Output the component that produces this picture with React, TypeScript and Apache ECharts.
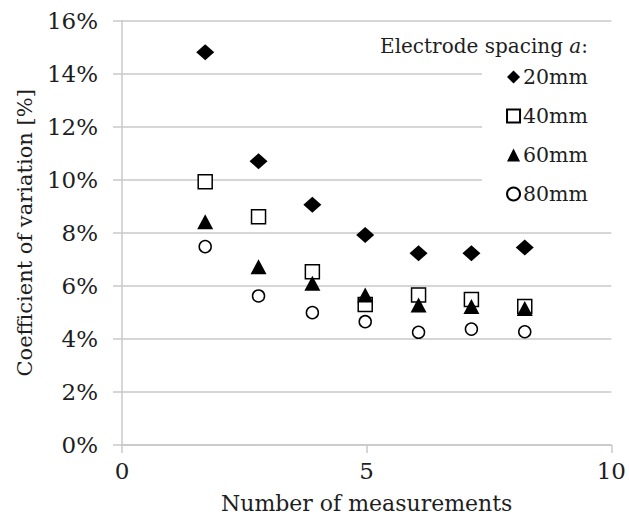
import React, { useEffect, useRef } from "react";
import * as echarts from "echarts";

const xMeasurements = [1.7, 2.79, 3.89, 4.97, 6.06, 7.14, 8.23];
const cv20mm = [14.81, 10.7, 9.06, 7.92, 7.23, 7.23, 7.45];
const cv40mm = [9.93, 8.61, 6.53, 5.3, 5.66, 5.49, 5.22];
const cv60mm = [8.42, 6.72, 6.1, 5.66, 5.28, 5.22, 5.15];
const cv80mm = [7.48, 5.62, 4.99, 4.65, 4.25, 4.37, 4.27];
const seriesNames = ["20mm", "40mm", "60mm", "80mm"];
const yTicks = { min: 0, max: 16, interval: 2 };
const xTicks = { min: 0, max: 10, interval: 5 };

const FONT = "'DejaVu Serif', serif";
const GRID = "#c8c8c8";
const TEXT = "#1e1e1e";

export default function App() {
  const ref = useRef<HTMLDivElement>(null);
  useEffect(() => {
    if (!ref.current) return;
    const chart = echarts.init(ref.current, undefined, { renderer: "svg" });
    const pair = (ys: number[]) => ys.map((y, i) => [xMeasurements[i], y]);
    const styles = [
      { symbol: "diamond", symbolSize: [18, 16], itemStyle: { color: "#000", opacity: 1 } },
      { symbol: "rect", symbolSize: 14, itemStyle: { color: "#fff", borderColor: "#000", borderWidth: 1.5, opacity: 1 } },
      { symbol: "triangle", symbolSize: [16, 15], itemStyle: { color: "#000", opacity: 1 } },
      { symbol: "circle", symbolSize: 12, itemStyle: { color: "#fff", borderColor: "#000", borderWidth: 1.5, opacity: 1 } },
    ];
    const data = [cv20mm, cv40mm, cv60mm, cv80mm];
    chart.setOption({
      animation: false,
      backgroundColor: "#fff",
      textStyle: { fontFamily: FONT },
      title: {
        text: "{n|Electrode spacing }{i|a}{n|:}",
        right: 36,
        top: 31,
        padding: 5,
        textStyle: {
          fontWeight: "normal",
          rich: {
            n: { fontFamily: FONT, fontSize: 20, color: TEXT, fontWeight: "normal" },
            i: { fontFamily: FONT, fontSize: 20, color: TEXT, fontStyle: "italic", fontWeight: "normal" },
          },
        },
      },
      graphic: [
        {
          type: "rect",
          z: 1,
          silent: true,
          shape: { x: 482, y: 58, width: 130, height: 154 },
          style: { fill: "#fff" },
        },
      ],
      legend: {
        orient: "vertical",
        right: 17,
        top: 58,
        padding: [8, 24, 8, 24],
        itemWidth: 13,
        itemHeight: 13,
        itemGap: 17,
        align: "left",
        data: seriesNames,
        textStyle: { fontFamily: FONT, fontSize: 20.5, color: TEXT, lineHeight: 22, padding: [0, 0, 0, -2] },
        z: 5,
      },
      grid: { left: 122, right: 15, top: 20.7, bottom: 76 },
      xAxis: {
        type: "value",
        min: xTicks.min,
        max: xTicks.max,
        interval: xTicks.interval,
        name: "Number of measurements",
        nameLocation: "middle",
        nameGap: 47,
        nameTextStyle: { fontFamily: FONT, fontSize: 22, color: TEXT },
        axisLine: { lineStyle: { color: GRID, width: 1.5 } },
        axisTick: { show: true, length: 8, lineStyle: { color: GRID, width: 1.5 } },
        axisLabel: { fontFamily: FONT, fontSize: 23, color: TEXT, margin: 14 },
        splitLine: { show: false },
      },
      yAxis: {
        type: "value",
        min: yTicks.min,
        max: yTicks.max,
        interval: yTicks.interval,
        name: "Coefficient of variation [%]",
        nameLocation: "middle",
        nameGap: 87,
        nameTextStyle: { fontFamily: FONT, fontSize: 21, color: TEXT },
        axisLine: { show: true, lineStyle: { color: GRID, width: 1.5 } },
        axisTick: { show: true, length: 9, lineStyle: { color: GRID, width: 1.5 } },
        axisLabel: { fontFamily: FONT, fontSize: 23, color: TEXT, margin: 24, formatter: "{value}%" },
        splitLine: { show: true, lineStyle: { color: GRID, width: 1.5 } },
      },
      series: data.map((ys, i) => ({
        name: seriesNames[i],
        type: "scatter",
        data: pair(ys),
        ...styles[i],
        z: 10,
      })),
    });
    return () => chart.dispose();
  }, []);
  return (
    <div
      ref={ref}
      style={{ position: "fixed", left: 0, top: 0, width: 629, height: 521 }}
    />
  );
}
